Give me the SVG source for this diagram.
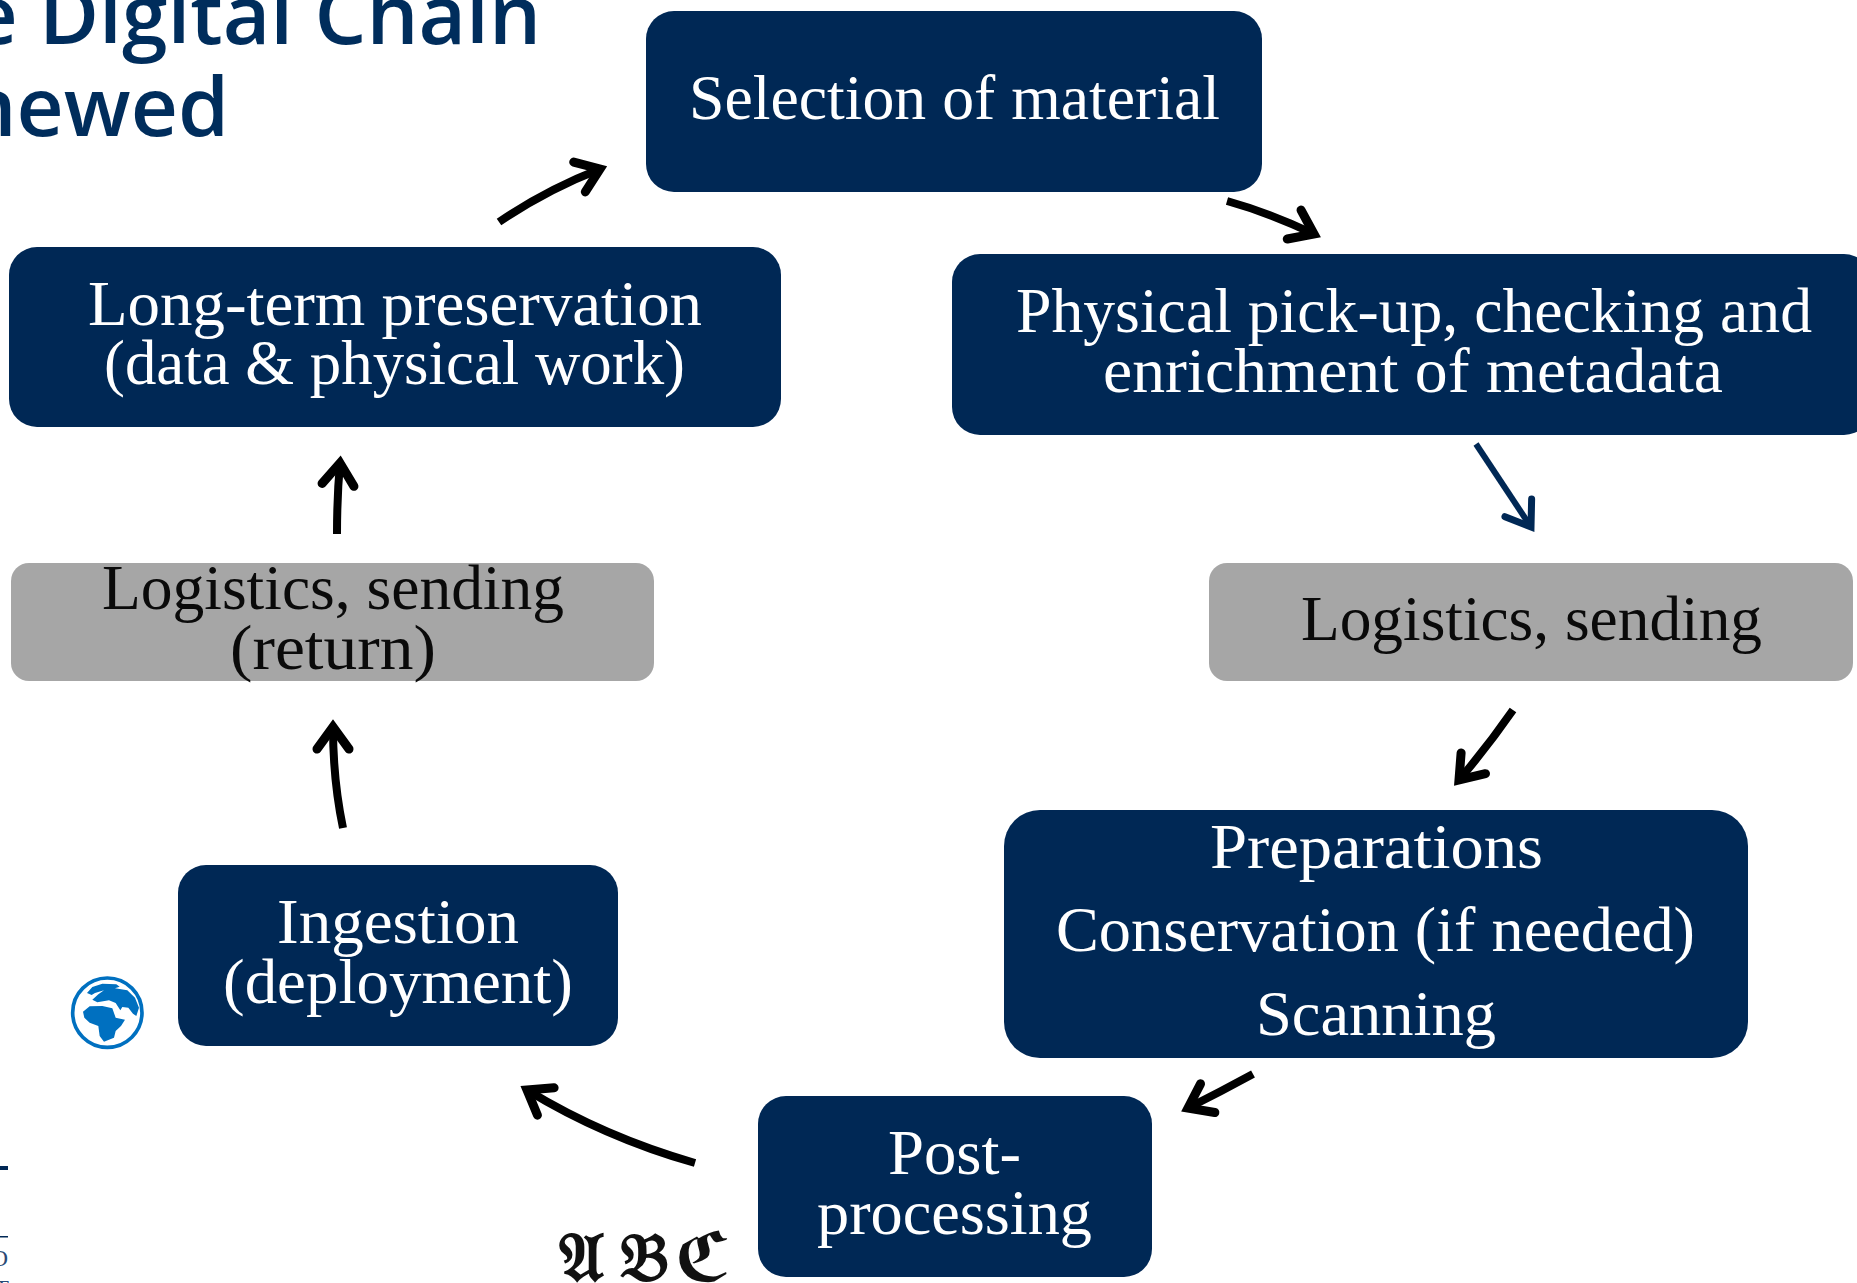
<svg xmlns="http://www.w3.org/2000/svg" width="1857" height="1283" viewBox="0 0 1857 1283">
<style>
.t{font-family:"Liberation Serif",serif;font-size:64px;text-anchor:start}
.w{fill:#fff}.k{fill:#0a0a0a}
.box{fill:#002855}.gr{fill:#a6a6a6}
.title{font-family:"Open Sans","Noto Sans",sans-serif;font-weight:600;font-size:82px;fill:#002d5c;text-anchor:end}
.a{fill:none;stroke:#000;stroke-width:8;marker-end:url(#h)}
.b{fill:none;stroke:#002855;stroke-width:6;marker-end:url(#hb)}
.g{fill:#0070c0}
.abc{font-family:"DejaVu Sans","Liberation Serif",serif;font-weight:700;font-size:68px;fill:#111}
</style>
<defs>
<marker id="h" markerUnits="userSpaceOnUse" markerWidth="60" markerHeight="60" refX="33" refY="30" orient="auto" overflow="visible"><path d="M11 14 L33 30 L11 46" fill="none" stroke="#000" stroke-width="9" stroke-linejoin="miter" stroke-miterlimit="10" stroke-linecap="round"/></marker>
<marker id="hb" markerUnits="userSpaceOnUse" markerWidth="60" markerHeight="60" refX="34" refY="30" orient="auto" overflow="visible"><path d="M11 14 L34 30 L11 46" fill="none" stroke="#002855" stroke-width="7" stroke-linejoin="miter" stroke-miterlimit="10" stroke-linecap="round"/></marker>
</defs>
<rect width="1857" height="1283" fill="#fff"/>
<g id="title">
<text class="title" x="541" y="44">e Digital Chain</text>
<text class="title" x="229" y="136">newed</text>
</g>
<g id="fragments" fill="#002855">
<rect x="0" y="1166" width="8" height="4"/>
<rect x="0" y="1236" width="8" height="1.5"/>
<text x="8" y="1266" text-anchor="end" font-family="Liberation Serif,serif" font-size="24" fill="#2a4a75">O</text>
<text x="9" y="1296" text-anchor="end" font-family="Liberation Serif,serif" font-size="24" fill="#2a4a75">T</text>
</g>
<g id="connectors">
<path class="a" d="M499 222 Q546 190 600 169"/>
<path class="a" d="M1227 201 Q1270 213 1314 234"/>
<path class="b" d="M1476 444 L1531 527"/>
<path class="a" d="M1513 710 Q1488 746 1459 780"/>
<path class="a" d="M1253 1074 Q1220 1092 1188 1108"/>
<path class="a" d="M695 1163 Q604 1137 527 1090"/>
<path class="a" d="M343 828 Q333 780 333 727"/>
<path class="a" d="M337 534 Q337 496 340 463"/>
</g>
<g id="node-selection">
<rect class="box" x="646" y="11" width="616" height="181" rx="28"/>
<text class="t w" x="689" y="119" textLength="531" lengthAdjust="spacingAndGlyphs">Selection of material</text>
</g>
<g id="node-physical">
<rect class="box" x="952" y="254" width="920" height="181" rx="28"/>
<text class="t w" x="1016" y="332" textLength="796" lengthAdjust="spacingAndGlyphs">Physical pick-up, checking and</text>
<text class="t w" x="1103" y="392" textLength="620" lengthAdjust="spacingAndGlyphs">enrichment of metadata</text>
</g>
<g id="node-logistics">
<rect class="gr" x="1209" y="563" width="644" height="118" rx="18"/>
<text class="t k" x="1301" y="640" textLength="461" lengthAdjust="spacingAndGlyphs">Logistics, sending</text>
</g>
<g id="node-preparations">
<rect class="box" x="1004" y="810" width="744" height="248" rx="36"/>
<text class="t w" x="1210" y="868" textLength="333" lengthAdjust="spacingAndGlyphs">Preparations</text>
<text class="t w" x="1056" y="951" textLength="639" lengthAdjust="spacingAndGlyphs">Conservation (if needed)</text>
<text class="t w" x="1256" y="1035" textLength="240" lengthAdjust="spacingAndGlyphs">Scanning</text>
</g>
<g id="node-post">
<rect class="box" x="758" y="1096" width="394" height="181" rx="28"/>
<text class="t w" x="888" y="1174" textLength="133" lengthAdjust="spacingAndGlyphs">Post-</text>
<text class="t w" x="817" y="1234" textLength="275" lengthAdjust="spacingAndGlyphs">processing</text>
</g>
<g id="node-ingestion">
<rect class="box" x="178" y="865" width="440" height="181" rx="28"/>
<text class="t w" x="277" y="943" textLength="242" lengthAdjust="spacingAndGlyphs">Ingestion</text>
<text class="t w" x="223" y="1003" textLength="350" lengthAdjust="spacingAndGlyphs">(deployment)</text>
</g>
<g id="node-return">
<rect class="gr" x="11" y="563" width="643" height="118" rx="18"/>
<text class="t k" x="102" y="609" textLength="462" lengthAdjust="spacingAndGlyphs">Logistics, sending</text>
<text class="t k" x="230" y="669" textLength="206" lengthAdjust="spacingAndGlyphs">(return)</text>
</g>
<g id="node-preservation">
<rect class="box" x="9" y="247" width="772" height="180" rx="28"/>
<text class="t w" x="88" y="325" textLength="614" lengthAdjust="spacingAndGlyphs">Long-term preservation</text>
<text class="t w" x="104" y="384" textLength="581" lengthAdjust="spacingAndGlyphs">(data &amp; physical work)</text>
</g>
<g id="globe" transform="translate(59 971) scale(.3333)">
<circle cx="145" cy="125" r="104" fill="none" stroke="#0070c0" stroke-width="11"/>
<path class="g" d="M100 48 L130 38 L172 40 L182 47 L168 52 L205 58 L228 80 L240 110 L232 135 L222 128 L208 110 L190 108 L184 118 L170 96 L150 88 L115 94 L100 86 L118 70 L135 58 L108 66 L98 72 L84 66Z"/>
<path class="g" d="M72 122 L92 106 L130 105 L160 112 L170 140 L198 146 L186 165 L170 180 L165 200 L135 212 L122 195 L118 165 L92 155 L76 140Z"/>
</g>
<g id="abc"><text class="abc" y="1281"><tspan x="559">𝔄</tspan><tspan x="620">𝔅</tspan><tspan x="675">ℭ</tspan></text></g>
</svg>
